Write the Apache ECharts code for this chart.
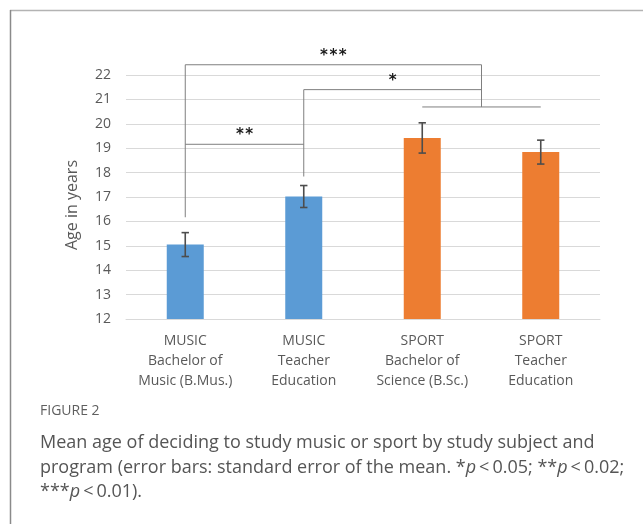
<!DOCTYPE html>
<html>
<head>
<meta charset="utf-8">
<script src="https://cdn.jsdelivr.net/npm/echarts@6/dist/echarts.min.js"></script>
<style>
html,body{margin:0;padding:0;background:#fff;}
#chart{width:643px;height:524px;}
</style>
</head>
<body>
<div id="chart"></div>
<script>
// ---- data ----
const categories = [
  'MUSIC\nBachelor of\nMusic (B.Mus.)',
  'MUSIC\nTeacher\nEducation',
  'SPORT\nBachelor of\nScience (B.Sc.)',
  'SPORT\nTeacher\nEducation'
];
const means = [15.05, 17.02, 19.42, 18.84];
const stdErrors = [0.49, 0.45, 0.62, 0.49];
const barColors = ['#5b9bd5', '#5b9bd5', '#ed7d31', '#ed7d31'];
const yTicks = { min: 12, max: 22, step: 1 };

// significance brackets (category position, 2.5 = SPORT group)
const sigLabels = ['**', '*', '***'];
const sigLevels = [19.16, 21.4, 22.42];
const sigLeft = [0, 1, 0];
const sigRight = [1, 2.5, 2.5];
const dropLegBottoms = [16.17, 17.84];   // lower ends of legs at MUSIC bars
const sportJoinLevel = 20.69;            // level of line joining both SPORT bars

const chart = echarts.init(document.getElementById('chart'), null, { renderer: 'canvas' });

const chartFont = '"Open Sans", "Noto Sans", sans-serif';
const textGrey = '#595959';

function xAt(api, pos, y) {
  const a = Math.floor(pos), b = Math.ceil(pos);
  const pa = api.coord([a, y]);
  if (a === b) return pa;
  const pb = api.coord([b, y]);
  return [pa[0] + (pos - a) * (pb[0] - pa[0]), pa[1]];
}

const option = {
  animation: false,
  textStyle: { fontFamily: chartFont },
  grid: { left: 126, right: 43, top: 75, bottom: 205 },
  xAxis: {
    type: 'category',
    data: categories,
    axisTick: { show: false },
    axisLine: { show: true, lineStyle: { color: '#d9d9d9', width: 1 } },
    axisLabel: { color: textGrey, fontSize: 14, lineHeight: 20, margin: 12, fontFamily: chartFont, interval: 0 }
  },
  yAxis: {
    type: 'value',
    min: yTicks.min, max: yTicks.max, interval: yTicks.step,
    name: 'Age in years',
    nameLocation: 'middle',
    nameRotate: 90,
    nameGap: 46,
    nameTextStyle: { color: textGrey, fontSize: 16, fontFamily: chartFont, padding: [0, 16, 0, 0] },
    axisLine: { show: false },
    axisTick: { show: false },
    axisLabel: { color: textGrey, fontSize: 14, margin: 15, fontFamily: chartFont },
    splitLine: { lineStyle: { color: '#d9d9d9', width: 1 } }
  },
  series: [
    {
      type: 'bar',
      barWidth: 37,
      data: means.map((v, i) => ({ value: v, itemStyle: { color: barColors[i] } })),
      z: 2
    },
    {
      type: 'custom',
      z: 5,
      data: means.map((v, i) => [i, v, stdErrors[i]]),
      renderItem: function (params, api) {
        const i = api.value(0), m = api.value(1), se = api.value(2);
        const top = api.coord([i, m + se]);
        const bot = api.coord([i, m - se]);
        const hw = 3.7;
        const st = { stroke: '#4d4d4d', lineWidth: 1.6 };
        return {
          type: 'group',
          children: [
            { type: 'line', shape: { x1: top[0], y1: top[1], x2: bot[0], y2: bot[1] }, style: st },
            { type: 'line', shape: { x1: top[0] - hw, y1: top[1], x2: top[0] + hw, y2: top[1] }, style: st },
            { type: 'line', shape: { x1: bot[0] - hw, y1: bot[1], x2: bot[0] + hw, y2: bot[1] }, style: st }
          ]
        };
      }
    },
    {
      type: 'custom',
      z: 6,
      data: [[0, 0]],
      clip: false,
      renderItem: function (params, api) {
        const st = { stroke: '#7f7f7f', lineWidth: 1 };
        const kids = [];
        const line = (p1, p2) => kids.push({ type: 'line', shape: { x1: p1[0], y1: p1[1], x2: p2[0], y2: p2[1] }, style: st });
        for (let k = 0; k < sigLevels.length; k++) {
          const a = xAt(api, sigLeft[k], sigLevels[k]);
          const b = xAt(api, sigRight[k], sigLevels[k]);
          line(a, b);
          kids.push({
            type: 'text',
            style: {
              text: sigLabels[k].split('').join('\u200A'), x: (a[0] + b[0]) / 2, y: a[1] - 9,
              align: 'center', verticalAlign: 'middle',
              fill: '#1a1a1a', font: 'bold 15px "DejaVu Sans", sans-serif'
            }
          });
        }
        for (let c = 0; c < dropLegBottoms.length; c++) {
          let topLevel = -Infinity;
          for (let k = 0; k < sigLevels.length; k++) {
            if (sigLeft[k] === c || sigRight[k] === c) topLevel = Math.max(topLevel, sigLevels[k]);
          }
          line(xAt(api, c, topLevel), xAt(api, c, dropLegBottoms[c]));
        }
        let sportTop = -Infinity;
        for (let k = 0; k < sigLevels.length; k++) if (sigRight[k] === 2.5) sportTop = Math.max(sportTop, sigLevels[k]);
        line(xAt(api, 2.5, sportTop), xAt(api, 2.5, sportJoinLevel));
        line(xAt(api, 2, sportJoinLevel), xAt(api, 3, sportJoinLevel));
        return { type: 'group', children: kids };
      }
    }
  ],
  graphic: [
    { type: 'line', shape: { x1: 10, y1: 10.5, x2: 643, y2: 10.5 }, style: { stroke: '#b3b3b3', lineWidth: 1.5 } },
    { type: 'line', shape: { x1: 10.5, y1: 10, x2: 10.5, y2: 524 }, style: { stroke: '#8a8a8a', lineWidth: 1.5 } },
    {
      type: 'text', left: 40, top: 404,
      style: { text: 'FIGURE 2', fill: '#5f5f5f', font: '14px "Open Sans", sans-serif' }
    },
    {
      type: 'text', left: 40, top: 431,
      style: {
        text: 'Mean age of deciding to study music or sport by study subject and\n' +
              'program (error bars: standard error of the mean. *{i|p}\u2009<\u20090.05; **{i|p}\u2009<\u20090.02;\n' +
              '***{i|p}\u2009<\u20090.01).',
        fill: '#555555',
        font: '18px "Open Sans", sans-serif',
        lineHeight: 24.5,
        rich: { i: { fontStyle: 'italic', fontSize: 18, fontFamily: '"Open Sans", sans-serif', fill: '#555555' } }
      }
    }
  ]
};
chart.setOption(option);
</script>
</body>
</html>
